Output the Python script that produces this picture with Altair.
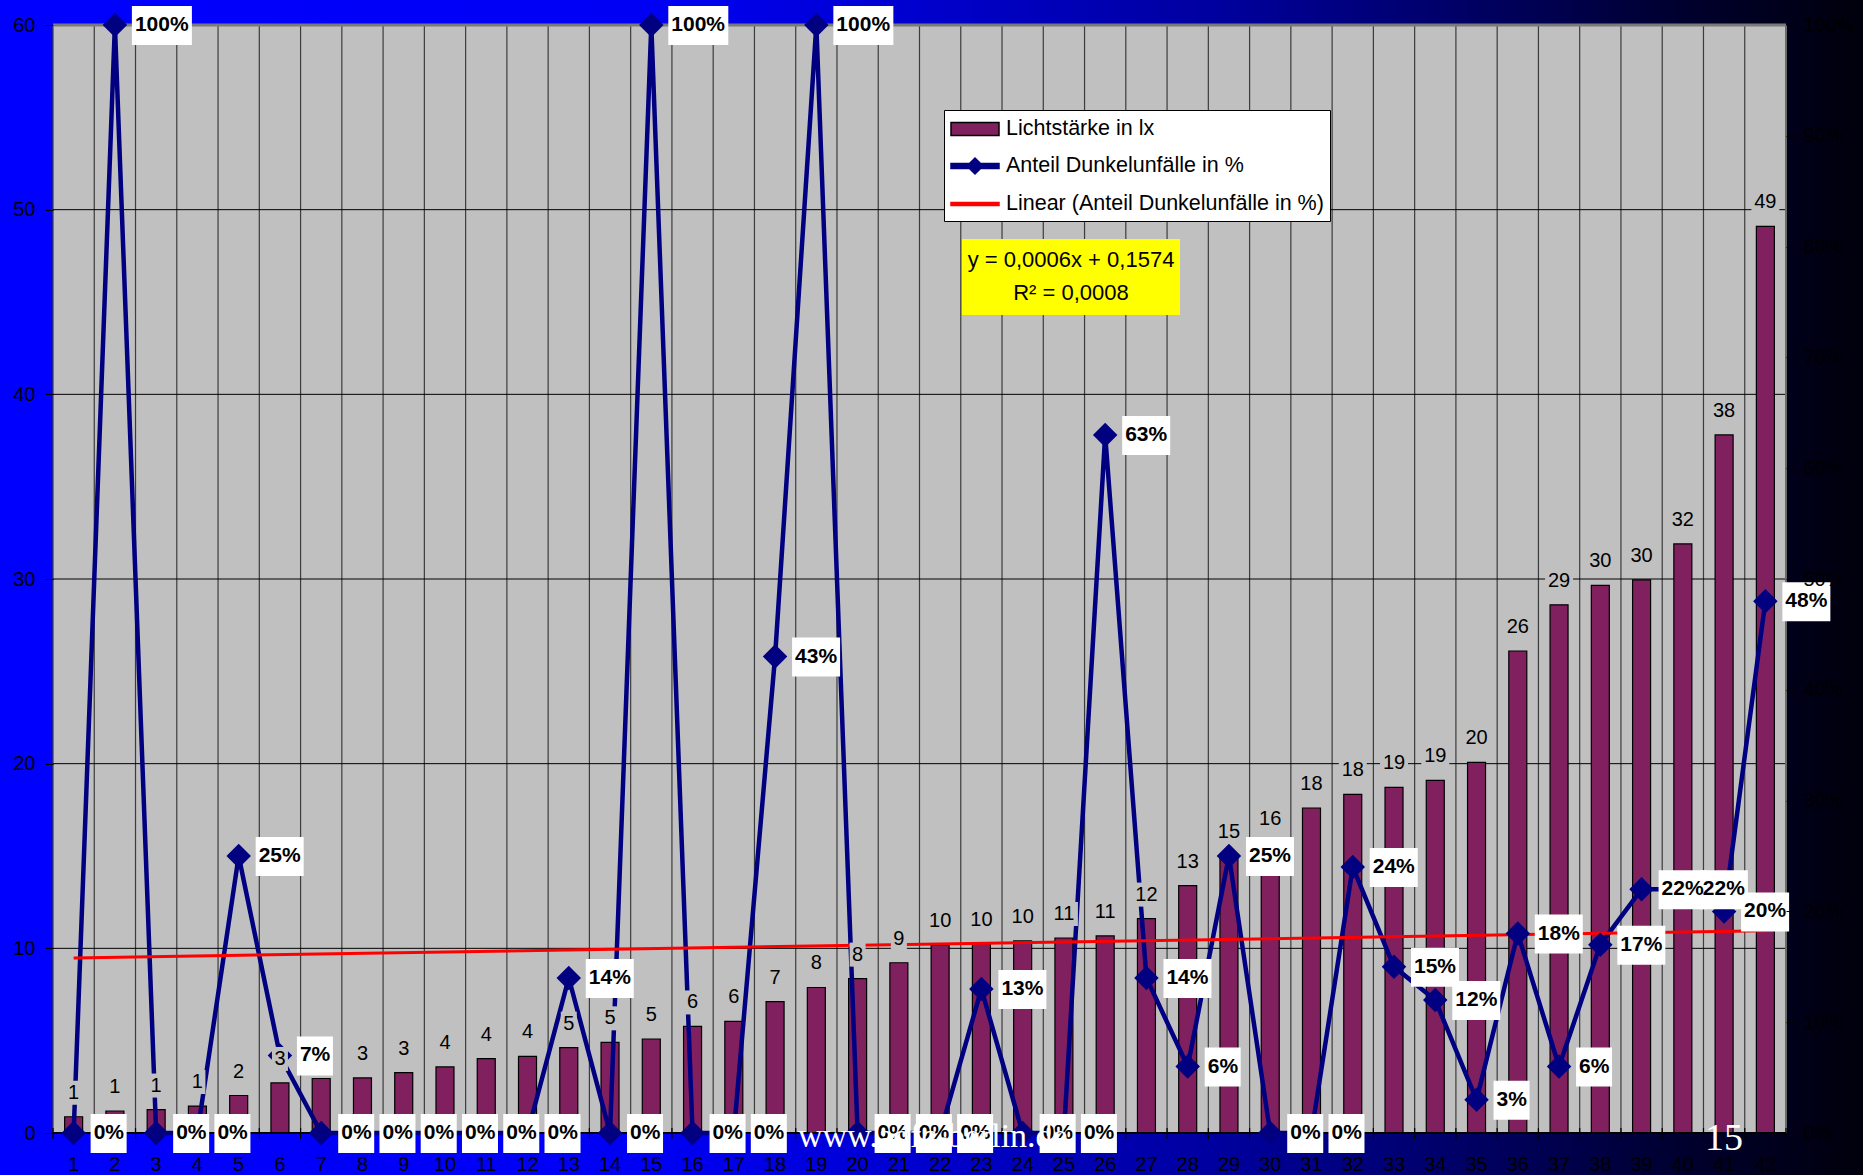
import altair as alt
import pandas as pd

# Messpunkte 1..42
points = list(range(1, 43))

# Lichtstärke in lx (Balken, linke Achse)
lux = [0.88, 1.19, 1.27, 1.46, 2.03, 2.71, 2.95, 2.98, 3.27, 3.58,
       4.03, 4.15, 4.62, 4.91, 5.09, 5.77, 6.04, 7.11, 7.88, 8.36,
       9.22, 10.16, 10.25, 10.40, 10.56, 10.67, 11.61, 13.40, 15.00, 15.70,
       17.60, 18.34, 18.72, 19.10, 20.07, 26.10, 28.60, 29.66, 29.95, 31.90,
       37.80, 49.10]

# Anteil Dunkelunfälle in % (Linie, rechte Achse)
dark_share = [0, 100, 0, 0, 25, 7, 0, 0, 0, 0,
              0, 0, 14, 0, 100, 0, 0, 43, 100, 0,
              0, 0, 13, 0, 0, 63, 14, 6, 25, 0,
              0, 24, 15, 12, 3, 18, 6, 17, 22, 22,
              20, 48]

# Lineare Trendlinie (Anteil Dunkelunfälle)
SLOPE = 0.0006
INTERCEPT = 0.1574
R_SQUARED = 0.0008

series_names = ["Lichtstärke in lx",
                "Anteil Dunkelunfälle in %",
                "Linear (Anteil Dunkelunfälle in %)"]

left_ticks = [0, 10, 20, 30, 40, 50, 60]
right_ticks = [0.0, 0.1, 0.2, 0.3, 0.4, 0.5, 0.6, 0.7, 0.8, 0.9, 1.0]

PURPLE = "#80205F"
NAVY = "#000080"
RED = "#FF0000"
GREY = "#C0C0C0"
FONT = "Liberation Sans"

W, H = 1733, 1108
PAD = {"left": 53, "top": 25, "right": 77, "bottom": 42}

df = pd.DataFrame({"idx": points, "lux": lux, "pct": dark_share})
df["share"] = df["pct"] / 100.0
df["label"] = df["pct"].astype(str) + "%"

first, last = points[0], points[-1]
trend_df = pd.DataFrame({"idx": [first, last]})
trend_df["share"] = INTERCEPT + SLOPE * trend_df["idx"]

x_lo, x_hi = first - 0.5, last + 0.5
X_SCALE = alt.Scale(domain=[x_lo, x_hi], nice=False, zero=False, padding=0)
L_SCALE = alt.Scale(domain=[left_ticks[0], left_ticks[-1]], nice=False, zero=False, padding=0)
R_SCALE = alt.Scale(domain=[right_ticks[0], right_ticks[-1]], nice=False, zero=False, padding=0)

boundaries = [p - 0.5 for p in points] + [x_hi]


def xq(field="idx"):
    return alt.X(f"{field}:Q", scale=X_SCALE, axis=None)


def yl(field):
    return alt.Y(f"{field}:Q", scale=L_SCALE, axis=None)


def yr(field):
    return alt.Y(f"{field}:Q", scale=R_SCALE, axis=None)


one = pd.DataFrame({"k": [0]})

# slide background: horizontal blue gradient
bg = alt.Chart(one).mark_rect(
    fill={"gradient": "linear", "x1": 0, "y1": 0, "x2": 1, "y2": 0,
          "stops": [{"offset": 0.0, "color": "#0000FF"},
                    {"offset": 0.35, "color": "#0000F5"},
                    {"offset": 0.5, "color": "#0000CC"},
                    {"offset": 0.65, "color": "#0000A0"},
                    {"offset": 0.78, "color": "#000068"},
                    {"offset": 0.9, "color": "#000030"},
                    {"offset": 1.0, "color": "#00000C"}]}
).encode(
    x=alt.value(-PAD["left"]), x2=alt.value(W + PAD["right"]),
    y=alt.value(-PAD["top"]), y2=alt.value(H + PAD["bottom"])
)

# grey plot area
frame_df = pd.DataFrame({"x0": [x_lo], "x1": [x_hi],
                         "y0": [left_ticks[0]], "y1": [left_ticks[-1]]})
plot_area = alt.Chart(frame_df).mark_rect(color=GREY).encode(
    x=xq("x0"), x2="x1", y=yl("y0"), y2="y1"
)

bounds_df = pd.DataFrame({"b": boundaries})

# category gridlines
vgrid = alt.Chart(bounds_df).mark_rule(color="#3C3C3C", strokeWidth=1.2).encode(x=xq("b"))

# category tick marks crossing the base line
xticks = alt.Chart(bounds_df).mark_rule(color="black", strokeWidth=1.2).encode(
    x=xq("b"), y=alt.value(H - 5), y2=alt.value(H + 6)
)

# value gridlines
hgrid = alt.Chart(pd.DataFrame({"v": left_ticks[1:-1]})).mark_rule(
    color="black", strokeWidth=1
).encode(y=yl("v"))
top_border = alt.Chart(pd.DataFrame({"v": [left_ticks[-1]]})).mark_rule(
    color="#7A7A7A", strokeWidth=3
).encode(y=yl("v"))
right_border = alt.Chart(pd.DataFrame({"b": [x_hi]})).mark_rule(
    color="#6A6A6A", strokeWidth=2
).encode(x=xq("b"))
base_line = alt.Chart(pd.DataFrame({"v": [left_ticks[0]]})).mark_rule(
    color="black", strokeWidth=2
).encode(y=yl("v"))

left_axis = alt.Axis(
    values=left_ticks, orient="left", tickSize=8, tickColor="black",
    labelPadding=10, labelFontSize=20, labelColor="black", labelFont=FONT,
    domain=False, grid=False, zindex=1, title=None,
)
right_axis = alt.Axis(
    values=right_ticks, format=".0%", orient="right", tickSize=8,
    tickColor="black", labelPadding=9, labelFontSize=20, labelColor="black",
    labelFont=FONT, domain=False, grid=False, zindex=1, title=None,
)

# category numbers below the plot
x_labels = alt.Chart(df).mark_text(
    fontSize=20, font=FONT, color="black", align="center", baseline="top"
).encode(x=xq(), y=alt.value(H + 22), text=alt.Text("idx:Q", format="d"))

bars = alt.Chart(df).mark_bar(
    size=18, color=PURPLE, stroke="black", strokeWidth=1.2
).encode(
    x=xq(),
    y=alt.Y("lux:Q", scale=L_SCALE, axis=left_axis),
)

line = alt.Chart(df).mark_line(color=NAVY, strokeWidth=4.5).encode(
    x=xq(), y=alt.Y("share:Q", scale=R_SCALE, axis=right_axis)
)

trend = alt.Chart(trend_df).mark_line(color=RED, strokeWidth=3).encode(
    x=xq(), y=yr("share")
)

markers = alt.Chart(df).mark_point(
    shape="diamond", filled=True, size=600, color=NAVY, opacity=1
).encode(x=xq(), y=yr("share"))

# value labels of the bars on grey patches
bar_lab_box_1 = alt.Chart(df).transform_filter("datum.lux < 9.5").mark_rect(
    color=GREY, xOffset=-8, x2Offset=8, yOffset=-36, y2Offset=-12
).encode(x=xq(), x2="idx", y=yl("lux"), y2="lux")
bar_lab_box_2 = alt.Chart(df).transform_filter("datum.lux >= 9.5").mark_rect(
    color=GREY, xOffset=-14, x2Offset=14, yOffset=-36, y2Offset=-12
).encode(x=xq(), x2="idx", y=yl("lux"), y2="lux")
bar_lab = alt.Chart(df).mark_text(
    dy=-24, fontSize=20, font=FONT, color="black", baseline="middle", align="center"
).encode(x=xq(), y=yl("lux"), text=alt.Text("lux:Q", format="d"))


# percentage labels on white boxes
def pct_box(test, width):
    return alt.Chart(df).transform_filter(test).mark_rect(
        color="white", xOffset=17, x2Offset=17 + width, yOffset=-19, y2Offset=20
    ).encode(x=xq(), x2="idx", y=yr("share"), y2="share")


pct_box_a = pct_box("datum.pct < 10", 36)
pct_box_b = pct_box("datum.pct >= 10 && datum.pct < 100", 48)
pct_box_c = pct_box("datum.pct >= 100", 60)
pct_lab = alt.Chart(df).mark_text(
    dx=20, align="left", baseline="middle", fontWeight="bold",
    fontSize=21, font=FONT, color="black"
).encode(x=xq(), y=yr("share"), text="label:N")

# trendline equation
eq_text = f"y = {SLOPE:.4f}x + {INTERCEPT:.4f}".replace(".", ",")
r2_text = f"R² = {R_SQUARED:.4f}".replace(".", ",")
eq_box = alt.Chart(one).mark_rect(color="#FFFF00").encode(
    x=alt.value(909), x2=alt.value(1127), y=alt.value(214), y2=alt.value(290)
)
eq_line1 = alt.Chart(one).mark_text(
    fontSize=22, font=FONT, color="black", align="center", baseline="middle"
).encode(x=alt.value(1018), y=alt.value(235), text=alt.value(eq_text))
eq_line2 = alt.Chart(one).mark_text(
    fontSize=22, font=FONT, color="black", align="center", baseline="middle"
).encode(x=alt.value(1018), y=alt.value(268), text=alt.value(r2_text))

# legend
swatch_bar = "M-1,-0.55L3,-0.55L3,0.55L-1,0.55Z"
swatch_line_marker = "M-1,-0.2L3,-0.2L3,0.2L-1,0.2Z M0.33,0L1,-0.67L1.67,0L1,0.67Z"
swatch_trend = "M-1,-0.12L3,-0.12L3,0.12L-1,0.12Z"
LEG = alt.Legend(
    orient="none", legendX=891, legendY=85, title=None,
    fillColor="white", strokeColor="black", padding=6,
    labelFont=FONT, labelFontSize=21.5, labelColor="black", labelOffset=30,
    labelLimit=600, rowPadding=13, symbolSize=576, symbolStrokeWidth=1.5,
    symbolOpacity=1, zindex=2,
)
legend_df = pd.DataFrame({"series": series_names})
legend_layer = alt.Chart(legend_df).mark_point(
    filled=True, opacity=0, size=576
).encode(
    fill=alt.Fill("series:N", scale=alt.Scale(domain=series_names, range=[PURPLE, NAVY, RED]), legend=LEG),
    stroke=alt.Stroke("series:N", scale=alt.Scale(domain=series_names, range=["black", NAVY, RED]), legend=LEG),
    shape=alt.Shape("series:N", scale=alt.Scale(domain=series_names,
                                                range=[swatch_bar, swatch_line_marker, swatch_trend]), legend=LEG),
)

# slide footer
watermark = alt.Chart(one).mark_text(
    font="Liberation Serif", fontSize=34, color="white", align="left", baseline="alphabetic"
).encode(x=alt.value(745), y=alt.value(1122), text=alt.value("www.adfc-berlin.de"))
slide_no = alt.Chart(one).mark_text(
    font="Liberation Serif", fontSize=38, color="white", align="left", baseline="alphabetic"
).encode(x=alt.value(1652), y=alt.value(1125), text=alt.value("15"))

chart = alt.layer(
    bg, plot_area, vgrid, hgrid, top_border, right_border,
    bars, base_line, xticks, x_labels, line, trend, markers,
    bar_lab_box_1, bar_lab_box_2, bar_lab,
    pct_box_a, pct_box_b, pct_box_c, pct_lab,
    eq_box, eq_line1, eq_line2,
    legend_layer, watermark, slide_no,
).resolve_scale(
    y="independent"
).properties(
    width=W, height=H, padding=PAD,
    autosize=alt.AutoSizeParams(type="none"),
    background="#0000C0",
).configure_view(stroke=None).configure(font=FONT)

chart.save("out.html", embed_options={"renderer": "svg", "actions": False})
